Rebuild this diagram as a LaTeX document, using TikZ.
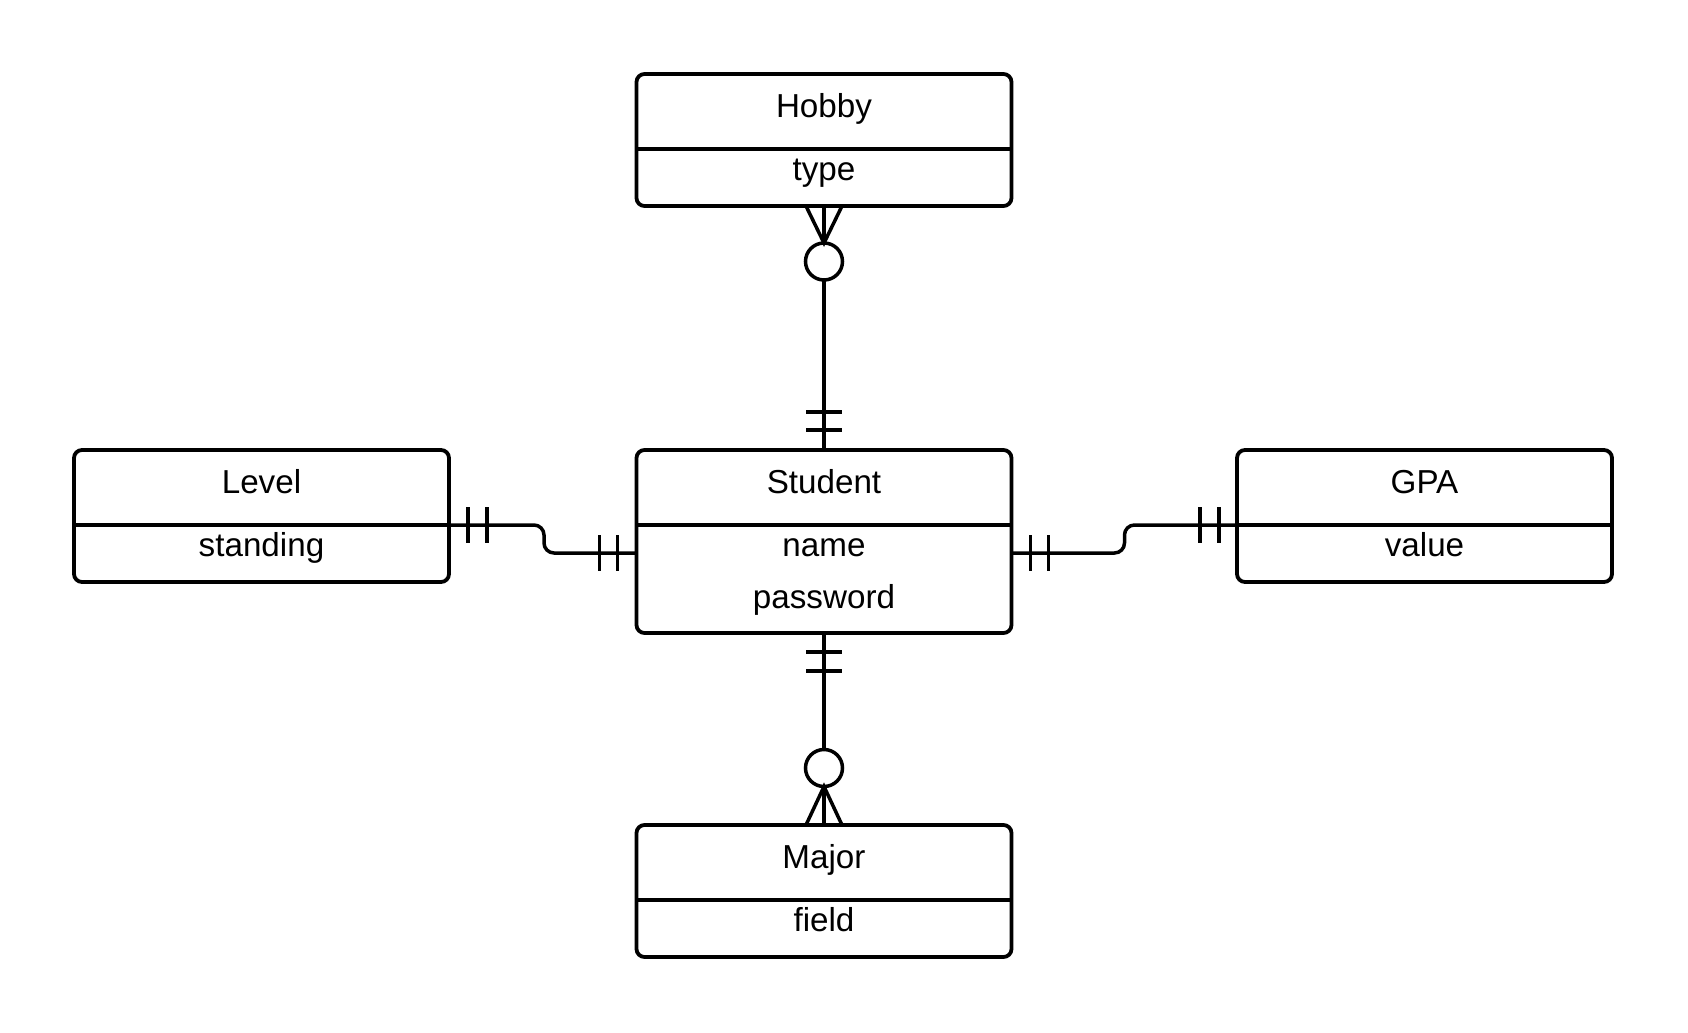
\documentclass[tikz,border=0pt]{standalone}
\usepackage{fontspec}
\setmainfont{Liberation Sans}
\usetikzlibrary{calc}
\begin{document}
\begin{tikzpicture}[x=0.5pt,y=-0.5pt,
  entity/.style={draw, line width=1.9pt, rounded corners=4pt, minimum width=187.5pt, inner sep=0pt, outer sep=0pt},
  divider/.style={line width=1.9pt},
  conn/.style={line width=1.75pt},
  lbl/.style={anchor=base, inner sep=0pt, font=\fontsize{16.6}{20}\selectfont}]
\useasboundingbox[fill=white] (0,0) rectangle (1688,1033);

% entities
\node[entity, minimum height=66pt]   (hobby)   at (824,140)    {};
\node[entity, minimum height=91.5pt] (student) at (824,541.5)  {};
\node[entity, minimum height=66pt]   (level)   at (261.5,516)  {};
\node[entity, minimum height=66pt]   (gpa)     at (1424.5,516) {};
\node[entity, minimum height=66pt]   (major)   at (824,891)    {};

% dividers
\foreach \e in {hobby,student,level,gpa,major}{
  \draw[divider] ([yshift=-37.5pt]\e.north west) -- ([yshift=-37.5pt]\e.north east);
}

% texts
\node[lbl] (hobbyT)   at ($(hobby.north)+(0,43)$)   {Hobby};
\node[lbl] (hobbyA)   at ($(hobby.north)+(0,106)$)  {type};
\node[lbl] (studentT) at ($(student.north)+(0,43)$) {Student};
\node[lbl] (studentA) at ($(student.north)+(0,106)$) {name};
\node[lbl] (studentB) at ($(student.north)+(0,158)$) {password};
\node[lbl] (levelT)   at ($(level.north)+(0,43)$)   {Level};
\node[lbl] (levelA)   at ($(level.north)+(0,106)$)  {standing};
\node[lbl] (gpaT)     at ($(gpa.north)+(0,43)$)     {GPA};
\node[lbl] (gpaA)     at ($(gpa.north)+(0,106)$)    {value};
\node[lbl] (majorT)   at ($(major.north)+(0,43)$)   {Major};
\node[lbl] (majorA)   at ($(major.north)+(0,106)$)  {field};

% Hobby -- Student  (zero-or-many at Hobby, one-and-only-one at Student)
\coordinate (hc) at ($(hobby.south)+(0,55.5)$);
\draw[conn] ($(hobby.south)+(-18,0)$) -- ($(hobby.south)+(0,37)$) -- ($(hobby.south)+(18,0)$);
\draw[conn] (hobby.south) -- ($(hobby.south)+(0,37)$);
\draw[conn] (hc) circle[radius=9.25pt];
\draw[conn] ($(hc)+(0,18.5)$) -- (student.north);
\draw[conn] ($(student.north)+(-18,-20)$) -- ++(36,0);
\draw[conn] ($(student.north)+(-18,-38)$) -- ++(36,0);

% Student -- Major
\coordinate (mc) at ($(major.north)+(0,-57)$);
\draw[conn] ($(major.north)+(-18,0)$) -- ($(major.north)+(0,-38.5)$) -- ($(major.north)+(18,0)$);
\draw[conn] (major.north) -- ($(major.north)+(0,-38.5)$);
\draw[conn] (mc) circle[radius=9.25pt];
\draw[conn] (student.south) -- ($(mc)+(0,-18.5)$);
\draw[conn] ($(student.south)+(-18,19)$) -- ++(36,0);
\draw[conn] ($(student.south)+(-18,38)$) -- ++(36,0);

% Level -- Student
\coordinate (lA) at ([yshift=-37.5pt]level.north east);
\coordinate (sW) at ([yshift=-51.5pt]student.north west);
\draw[conn, rounded corners=5pt] (lA) -- ($(lA)+(95,0)$) |- (sW);
\draw[conn] ($(lA)+(19,-18)$) -- ++(0,36);
\draw[conn] ($(lA)+(38,-18)$) -- ++(0,36);
\draw[conn] ($(sW)+(-19,-18)$) -- ++(0,36);
\draw[conn] ($(sW)+(-37,-18)$) -- ++(0,36);

% Student -- GPA
\coordinate (sE) at ([yshift=-51.5pt]student.north east);
\coordinate (gW) at ([yshift=-37.5pt]gpa.north west);
\draw[conn, rounded corners=5pt] (sE) -- ($(sE)+(113,0)$) |- (gW);
\draw[conn] ($(sE)+(19,-18)$) -- ++(0,36);
\draw[conn] ($(sE)+(37,-18)$) -- ++(0,36);
\draw[conn] ($(gW)+(-18,-18)$) -- ++(0,36);
\draw[conn] ($(gW)+(-37,-18)$) -- ++(0,36);
\end{tikzpicture}
\end{document}
